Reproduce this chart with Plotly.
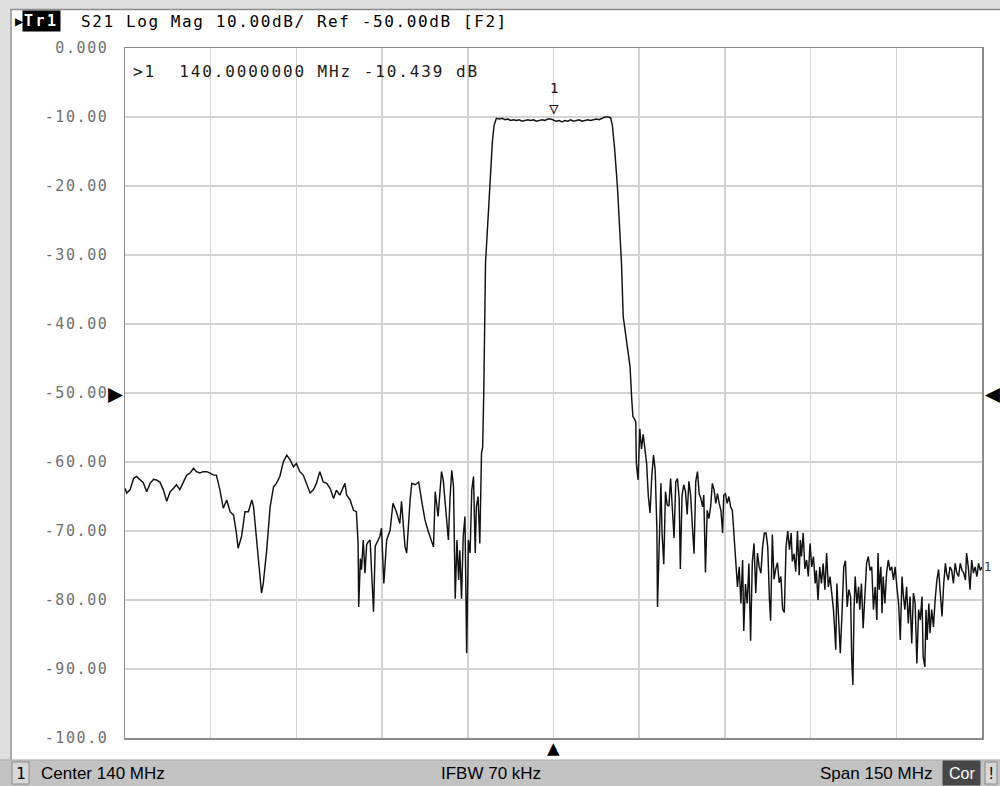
import plotly.graph_objects as go

# ---------------- data ----------------
freq_mhz = [
    65.0, 65.3, 65.9, 66.5, 67.0, 67.6, 68.2, 68.8, 69.4, 70.0, 70.5, 71.1, 71.7, 72.3, 72.9,
    73.5, 74.0, 74.6, 75.2, 75.8, 76.4, 77.0, 77.5, 78.1, 78.7, 79.3, 79.9, 80.5, 81.0, 81.6,
    82.2, 82.8, 83.4, 84.0, 84.5, 84.8, 85.4, 86.0, 86.6, 87.2, 87.5, 88.0, 88.6, 88.9, 89.2,
    89.8, 90.4, 91.0, 91.5, 92.1, 92.7, 93.3, 93.9, 94.5, 95.0, 95.6, 96.2, 96.8, 97.4, 98.0,
    98.5, 99.1, 99.7, 100.3, 100.9, 101.5, 102.0, 102.6, 103.2, 103.5, 103.8, 104.4, 105.0,
    105.5, 105.8, 105.9, 106.2, 106.4, 106.7, 107.0, 107.3, 107.6, 107.9, 108.2, 108.5, 108.8,
    109.0, 109.6, 109.9, 110.3, 110.8, 111.4, 111.9, 112.5, 113.1, 113.4, 114.0, 114.3, 114.9,
    115.2, 115.8, 116.4, 116.9, 117.5, 118.1, 119.0, 119.3, 119.8, 120.4, 120.7, 121.0, 121.6,
    121.9, 122.2, 122.5, 122.8, 123.1, 123.4, 123.6, 123.9, 124.2, 124.5, 124.8, 125.1, 125.4,
    125.7, 126.0, 126.3, 126.5, 126.8, 127.1, 127.4, 127.6, 127.8, 128.1, 128.5, 129.0, 129.3,
    129.6, 130.0, 130.5, 131.0, 131.5, 132.0, 132.5, 133.0, 133.5, 134.0, 134.5, 135.0, 135.5,
    136.0, 136.5, 137.0, 137.5, 138.0, 138.5, 139.0, 139.5, 140.0, 140.5, 141.0, 141.5, 142.0,
    142.5, 143.0, 143.5, 144.0, 144.5, 145.0, 145.5, 146.0, 146.5, 147.0, 147.5, 148.0, 148.5,
    149.0, 149.5, 150.0, 150.3, 150.7, 151.2, 151.6, 151.9, 152.2, 152.8, 153.4, 153.7, 153.9,
    154.2, 154.4, 154.5, 154.8, 155.1, 155.4, 155.7, 156.0, 156.3, 156.6, 156.9, 157.2, 157.5,
    157.8, 158.1, 158.2, 158.5, 158.8, 159.0, 159.3, 159.6, 159.9, 160.2, 160.5, 160.8, 161.1,
    161.4, 161.7, 162.0, 162.2, 162.5, 162.8, 163.1, 163.4, 163.7, 164.0, 164.3, 164.6, 164.9,
    165.2, 165.5, 165.8, 166.1, 166.3, 166.6, 166.9, 167.2, 167.5, 167.8, 168.1, 168.4, 168.7,
    169.0, 169.3, 169.6, 169.8, 170.1, 170.4, 170.7, 171.0, 171.3, 171.6, 171.9, 172.2, 172.5,
    172.8, 173.1, 173.3, 173.6, 173.9, 174.2, 174.5, 174.8, 175.1, 175.4, 175.7, 176.0, 176.3,
    176.6, 176.9, 177.2, 177.5, 177.8, 178.0, 178.3, 178.6, 178.9, 179.2, 179.5, 179.8, 180.1,
    180.4, 180.7, 181.0, 181.3, 181.6, 181.8, 182.1, 182.4, 182.7, 183.0, 183.2, 183.4, 183.7,
    184.0, 184.3, 184.6, 184.9, 185.2, 185.5, 185.8, 186.0, 186.3, 186.6, 186.9, 187.2, 187.5,
    187.8, 188.1, 188.4, 188.7, 189.0, 189.2, 189.4, 189.6, 189.9, 190.2, 190.5, 190.8, 191.1,
    191.4, 191.7, 192.0, 192.2, 192.4, 192.6, 192.8, 193.1, 193.4, 193.6, 193.9, 194.2, 194.5,
    194.8, 195.1, 195.4, 195.7, 196.0, 196.3, 196.6, 196.8, 197.0, 197.3, 197.5, 197.7, 198.0,
    198.3, 198.6, 198.9, 199.2, 199.5, 199.8, 200.1, 200.4, 200.7, 201.0, 201.2, 201.5, 201.8,
    202.1, 202.4, 202.7, 203.0, 203.3, 203.6, 203.9, 204.2, 204.5, 204.7, 205.0, 205.2, 205.4,
    205.7, 205.9, 206.2, 206.5, 206.8, 207.1, 207.4, 207.7, 208.0, 208.3, 208.6, 208.8, 209.1,
    209.4, 209.7, 210.0, 210.3, 210.6, 210.9, 211.2, 211.5, 211.8, 212.1, 212.3, 212.6, 212.9,
    213.2, 213.5, 213.8, 214.1, 214.4, 214.7, 215.0,
]

s21_db = [
    -63.8, -64.5, -64.0, -62.4, -62.1, -62.6, -63.0, -64.3, -63.1, -62.5, -62.6, -62.9, -64.0, -65.7, -64.3,
    -63.8, -63.3, -64.0, -62.9, -61.9, -61.6, -60.9, -61.4, -61.6, -61.4, -61.4, -61.6, -61.9, -61.9, -64.0,
    -66.7, -65.5, -67.2, -67.7, -70.3, -72.5, -70.8, -67.2, -67.2, -65.5, -66.5, -71.3, -76.1, -79.0, -77.6,
    -72.8, -66.5, -63.6, -63.1, -62.1, -60.0, -59.0, -59.7, -60.7, -60.2, -61.4, -61.9, -63.1, -64.5, -64.0,
    -63.1, -61.4, -62.9, -63.1, -63.8, -65.3, -64.1, -64.8, -63.6, -63.1, -64.8, -65.5, -67.0,
    -67.2, -71.8, -81.0, -74.0, -75.6, -71.3, -76.1, -72.0, -71.5, -71.3, -77.6, -81.7, -72.2,
    -71.8, -70.8, -69.6, -77.6, -71.3, -69.9, -66.0, -67.2, -68.9, -65.7, -72.2, -73.2, -65.5,
    -63.1, -63.3, -62.9, -65.5, -68.4, -70.1, -72.3, -64.3, -67.9, -61.4, -62.6, -65.5, -71.3,
    -65.0, -61.2, -63.6, -79.8, -71.3, -77.1, -72.8, -79.8, -70.8, -67.9, -87.7, -71.3, -73.2,
    -64.0, -62.1, -73.2, -66.5, -65.0, -71.8, -58.7, -57.9, -49.6, -31.2, -25.2, -17.7, -13.6,
    -11.2, -10.2, -10.3, -10.2, -10.4, -10.3, -10.5, -10.4, -10.5, -10.4, -10.6, -10.5, -10.4,
    -10.5, -10.4, -10.6, -10.5, -10.4, -10.5, -10.3, -10.3, -10.439, -10.6, -10.5, -10.7, -10.5,
    -10.6, -10.4, -10.6, -10.5, -10.4, -10.6, -10.5, -10.4, -10.5, -10.4, -10.3, -10.4, -10.2,
    -10.0, -10.0, -10.1, -11.2, -14.6, -20.3, -25.9, -31.2, -38.9, -42.3, -46.2, -51.0, -53.4,
    -53.8, -54.2, -60.2, -62.6, -55.2, -58.1, -56.0, -58.0, -60.2, -65.0, -67.4, -62.1, -59.0,
    -61.2, -69.9, -81.0, -72.3, -63.1, -70.3, -74.8, -64.3, -66.2, -66.4, -62.4, -66.7, -71.0,
    -62.9, -62.4, -65.3, -75.5, -64.8, -63.3, -64.3, -67.6, -62.8, -64.8, -69.2, -73.3, -62.8,
    -61.4, -64.6, -65.3, -66.5, -64.8, -76.0, -67.0, -68.2, -66.5, -63.1, -64.0, -66.0, -64.6,
    -66.0, -67.0, -70.3, -64.8, -64.6, -66.0, -65.0, -66.5, -67.0, -70.9, -74.7, -78.1, -75.2,
    -80.5, -74.2, -84.5, -77.7, -80.5, -74.7, -85.9, -74.5, -71.8, -79.0, -73.2, -75.2, -76.1,
    -72.3, -70.3, -70.3, -72.3, -80.0, -83.0, -70.5, -77.0, -75.5, -74.6, -77.5, -76.6, -81.3,
    -81.8, -72.3, -70.0, -72.7, -70.3, -74.4, -73.3, -75.9, -70.0, -76.4, -71.3, -73.7, -70.3,
    -75.5, -74.2, -76.6, -71.8, -75.2, -73.7, -77.6, -75.7, -80.0, -75.2, -77.6, -74.7, -78.5,
    -73.2, -78.1, -76.6, -79.0, -81.4, -84.1, -87.2, -77.6, -83.9, -87.7, -81.9, -75.2, -74.3,
    -81.0, -78.5, -79.5, -88.7, -92.3, -81.4, -76.6, -80.5, -78.1, -81.4, -77.6, -84.1, -79.0,
    -74.7, -73.7, -75.7, -75.2, -81.4, -78.1, -82.9, -73.2, -78.5, -75.2, -81.9, -76.6, -80.5,
    -76.1, -74.2, -75.7, -75.2, -77.1, -75.2, -78.1, -80.5, -85.8, -76.6, -79.0, -81.4, -78.1,
    -83.4, -79.5, -86.3, -79.0, -80.5, -89.2, -81.4, -82.9, -79.5, -88.2, -89.7, -81.4, -85.8,
    -80.5, -84.8, -81.4, -83.9, -80.0, -77.1, -75.6, -79.0, -82.4, -77.6, -74.7, -76.1, -77.1,
    -75.2, -75.7, -77.6, -74.7, -76.1, -76.6, -74.7, -75.7, -76.1, -77.1, -73.2, -75.2, -78.5,
    -74.2, -76.1, -75.2, -76.6, -74.7, -75.7, -75.2,
]

marker_freq = [140.0]
marker_db = [-10.439]

x_grid_mhz = [65, 80, 95, 110, 125, 140, 155, 170, 185, 200, 215]
y_tick_vals = [0, -10, -20, -30, -40, -50, -60, -70, -80, -90, -100]
y_tick_text = ["0.000", "-10.00", "-20.00", "-30.00", "-40.00", "-50.00",
               "-60.00", "-70.00", "-80.00", "-90.00", "-100.0"]

header_text = "S21 Log Mag 10.00dB/ Ref -50.00dB [F2]"
readout_text = "&gt;1  140.0000000 MHz -10.439 dB"
status_left = "Center 140 MHz"
status_mid = "IFBW 70 kHz"
status_right = "Span 150 MHz"

# ---------------- geometry helpers (pixel -> paper) ----------------
W, H = 1000, 786
L, R, T, B = 125, 18, 48, 48
PW, PH = W - L - R, H - T - B


def px(x):
    return (x - L) / PW


def py(y):
    return (H - B - y) / PH


MONO = "DejaVu Sans Mono"
SANS = "Liberation Sans"


def spaced(s, ls=1.7):
    return f'<span style="letter-spacing:{ls}px">{s}</span>'


def label(x, y, text, size, color="#000000", family=MONO, xanchor="center", **kw):
    d = dict(xref="paper", yref="paper", x=px(x), y=py(y), xanchor=xanchor, yanchor="middle",
             text=text, showarrow=False, font=dict(family=family, size=size, color=color))
    d.update(kw)
    return d


fig = go.Figure()
fig.add_trace(go.Scatter(
    x=freq_mhz, y=s21_db, mode="lines",
    line=dict(color="#111111", width=1.45),
    hoverinfo="skip", showlegend=False,
))

shapes = [
    # outer light frame (top band and left band)
    dict(type="rect", xref="paper", yref="paper", x0=px(0), x1=px(W), y0=py(9), y1=py(0),
         fillcolor="#dedede", line=dict(width=0), layer="below"),
    dict(type="rect", xref="paper", yref="paper", x0=px(0), x1=px(10), y0=py(H), y1=py(0),
         fillcolor="#dedede", line=dict(width=0), layer="below"),
    dict(type="line", xref="paper", yref="paper", x0=px(10), x1=px(W), y0=py(9.5), y1=py(9.5),
         line=dict(color="#8c8c8c", width=1.5)),
    dict(type="line", xref="paper", yref="paper", x0=px(11), x1=px(11), y0=py(9.5), y1=py(760),
         line=dict(color="#8c8c8c", width=1.5)),
    # status bar
    dict(type="rect", xref="paper", yref="paper", x0=px(0), x1=px(W), y0=py(H), y1=py(760),
         fillcolor="#c2c2c2", line=dict(width=0)),
    dict(type="line", xref="paper", yref="paper", x0=px(0), x1=px(W), y0=py(760), y1=py(760),
         line=dict(color="#a8a8a8", width=1)),
    dict(type="rect", xref="paper", yref="paper", x0=px(12), x1=px(29), y0=py(784), y1=py(762),
         fillcolor="#d8d8d8", line=dict(color="#8a8a8a", width=1)),
    dict(type="rect", xref="paper", yref="paper", x0=px(943), x1=px(980), y0=py(785), y1=py(761),
         fillcolor="#474747", line=dict(color="#474747", width=1)),
    dict(type="rect", xref="paper", yref="paper", x0=px(985), x1=px(997), y0=py(784), y1=py(762),
         fillcolor="#d8d8d8", line=dict(color="#8a8a8a", width=1)),
]

ann = [
    # header
    label(13, 21, "▶", 14, xanchor="left"),
    label(22, 21, spaced("<b>Tr1</b>", 2.5), 15, color="#ffffff", xanchor="left",
          bgcolor="#000000", borderpad=1),
    label(79, 21, spaced(header_text, 1.6), 16, xanchor="left"),
    # marker readout
    label(131, 71, spaced(readout_text, 1.9), 16, color="#1a1a1a", xanchor="left"),
    # reference-level arrows
    dict(xref="paper", yref="y", x=px(125), y=-50, xanchor="right", yanchor="middle", text="▶",
         showarrow=False, font=dict(family=MONO, size=25, color="#000000")),
    dict(xref="paper", yref="y", x=px(983), y=-50, xanchor="left", yanchor="middle", text="◀",
         showarrow=False, font=dict(family=MONO, size=25, color="#000000")),
    # center-frequency arrow under the grid
    dict(xref="x", yref="paper", x=140, y=py(748), xanchor="center", yanchor="middle", text="▲",
         showarrow=False, font=dict(family=MONO, size=21, color="#000000")),
    # marker 1 symbol on trace
    dict(xref="x", yref="y", x=marker_freq[0], y=marker_db[0], yshift=12, xanchor="center",
         yanchor="middle", text="▽", showarrow=False,
         font=dict(family=MONO, size=16, color="#111111")),
    dict(xref="x", yref="y", x=marker_freq[0], y=marker_db[0], yshift=32, xanchor="center",
         yanchor="middle", text="1", showarrow=False,
         font=dict(family=MONO, size=14, color="#111111")),
    # trace end label
    dict(xref="paper", yref="y", x=px(982), y=s21_db[-1], xanchor="left", yanchor="middle",
         text="1", showarrow=False, font=dict(family=MONO, size=12, color="#333333")),
    # status bar text
    label(20.5, 773, "1", 16),
    label(39, 773, status_left, 17, family=SANS, xanchor="left"),
    label(491, 773, status_mid, 17, family=SANS),
    label(934, 773, status_right, 17, family=SANS, xanchor="right"),
    label(961.5, 773, "Cor", 16, color="#ffffff", family=SANS),
    label(991, 773, "!", 16, family=SANS),
]

fig.update_layout(
    width=W, height=H,
    margin=dict(l=L, r=R, t=T, b=B, pad=0),
    paper_bgcolor="#ffffff", plot_bgcolor="#ffffff",
    showlegend=False,
    shapes=shapes, annotations=ann,
    xaxis=dict(range=[65, 215], tickvals=x_grid_mhz, showticklabels=False, ticks="",
               showgrid=True, gridcolor="#d2d2d2", gridwidth=1.5, zeroline=False,
               showline=True, mirror=True, linecolor="#8a8a8a", linewidth=1.5, fixedrange=True),
    yaxis=dict(range=[-100, 0], tickvals=y_tick_vals,
               ticktext=[spaced(t, 1.6) for t in y_tick_text], ticks="",
               tickfont=dict(family=MONO, size=15, color="#707070"), ticklabelstandoff=12,
               showgrid=True, gridcolor="#d2d2d2", gridwidth=1.5, zeroline=False,
               showline=True, mirror=True, linecolor="#8a8a8a", linewidth=1.5, fixedrange=True),
)

fig.write_html(
    "out.html",
    config={"displayModeBar": False, "staticPlot": True},
    post_script="document.body.style.margin='0px';document.body.style.overflow='hidden';",
)
